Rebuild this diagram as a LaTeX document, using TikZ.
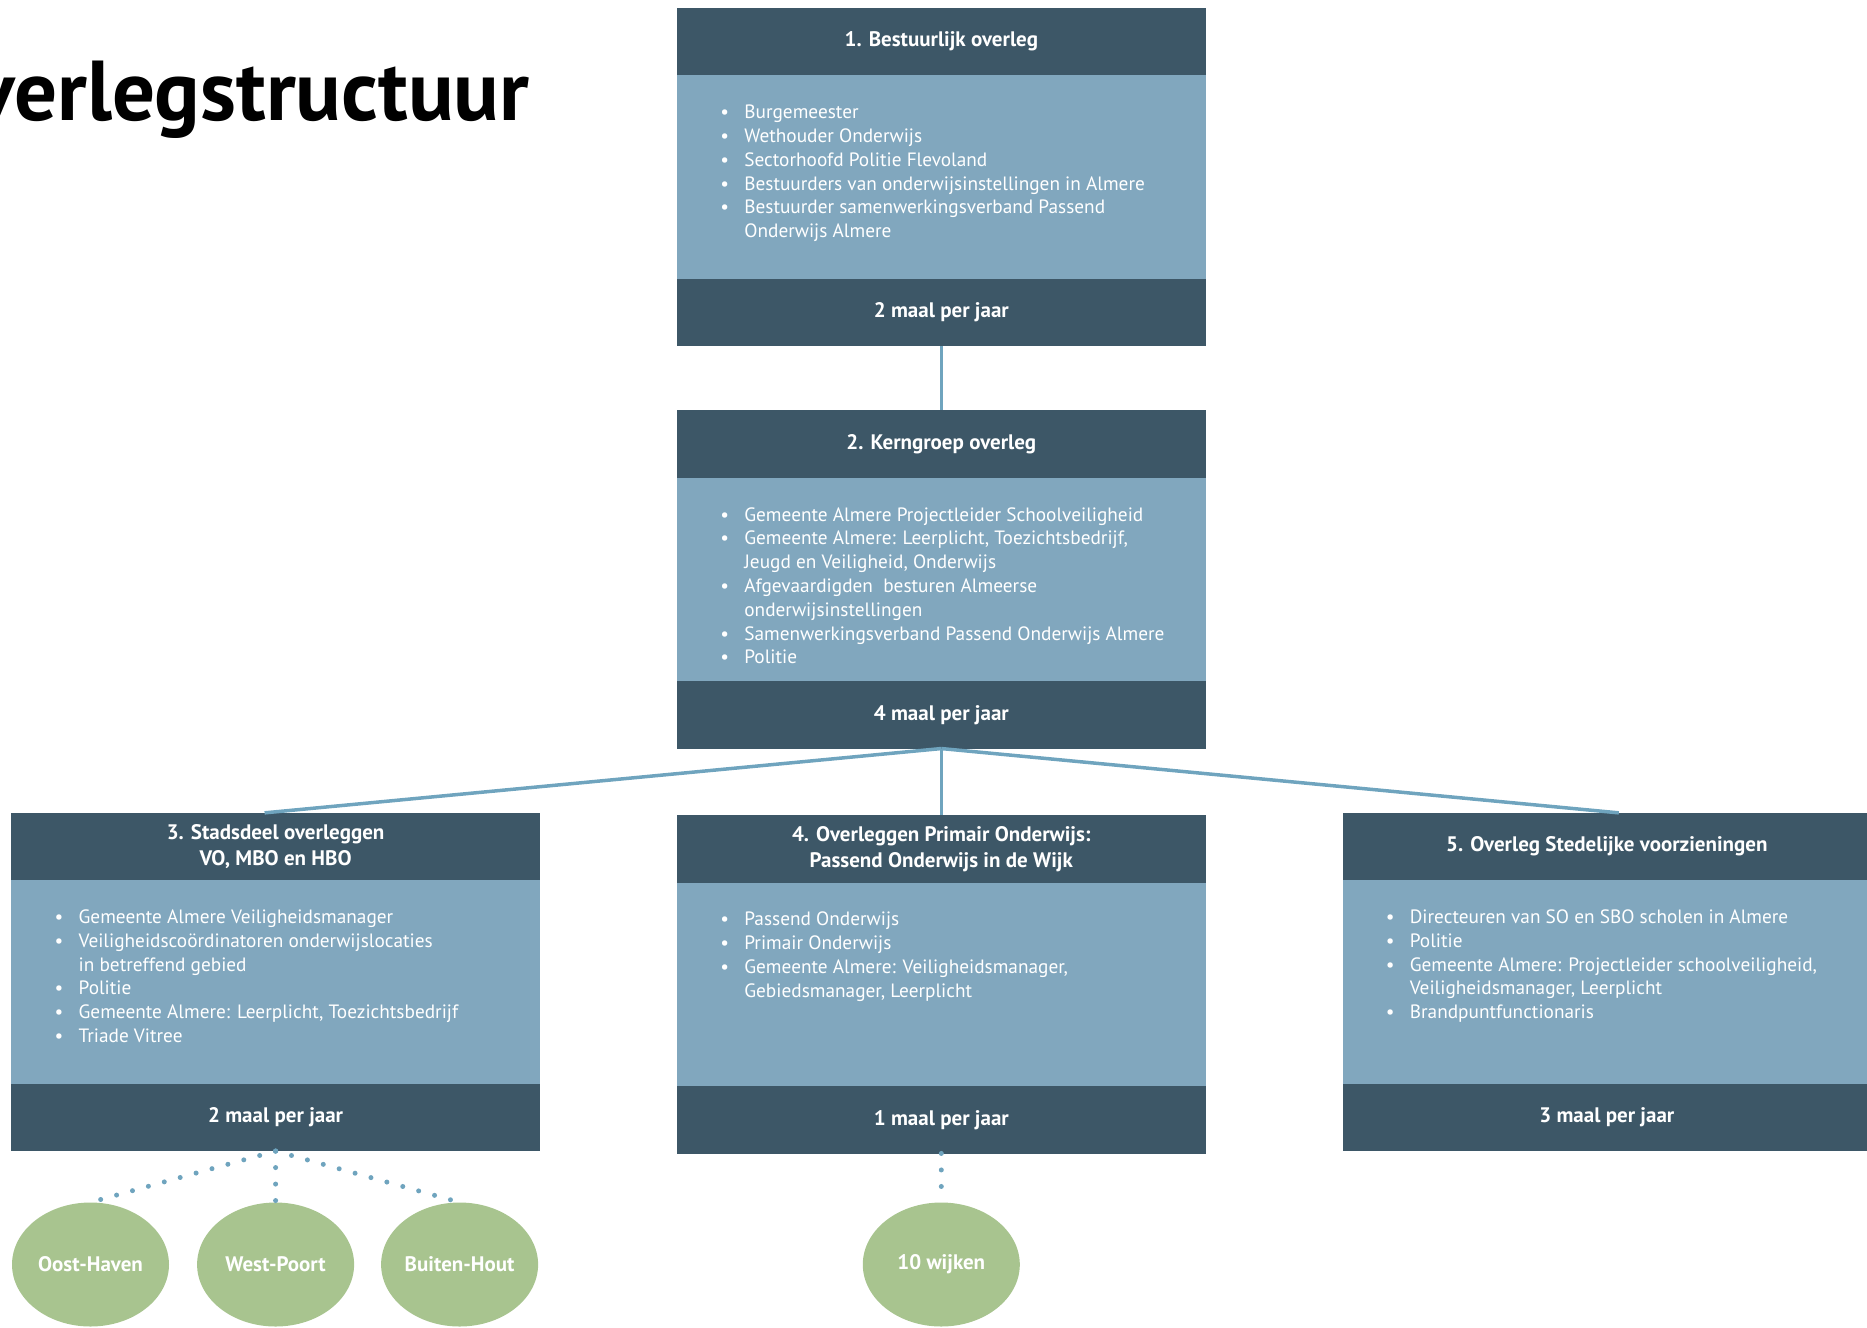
\documentclass[tikz,border=0pt]{standalone}
\usepackage{fontspec}
\setmainfont{PT Sans}
\usetikzlibrary{positioning,shapes.geometric}
\definecolor{kopblauw}{HTML}{3D5767}
\definecolor{lijfblauw}{HTML}{81A7BE}
\definecolor{lijnblauw}{HTML}{6FA4BE}
\definecolor{wijkgroen}{HTML}{A8C48F}
\newcommand{\lijst}[1]{\begin{tabular}{@{}p{24pt}@{}l@{}}#1\end{tabular}}
\tikzset{
  kop/.style={fill=kopblauw, draw=kopblauw, line width=0.8pt, text=white, font=\bfseries\fontsize{21}{25.5}\selectfont, align=center, minimum width=527.5pt, minimum height=66.7pt, inner sep=0pt},
  lijf/.style={fill=lijfblauw, draw=lijfblauw, line width=0.8pt, minimum width=527.5pt, minimum height=202.4pt, inner sep=0pt},
  tekst/.style={text=white, font=\fontsize{19.3}{23.8}\selectfont, inner sep=0pt, anchor=north west},
  lijn/.style={draw=lijnblauw, line width=3.5pt},
  stip/.style={draw=lijnblauw, line width=5pt, line cap=round, dash pattern=on 0pt off 16.5pt},
  wijk/.style={ellipse, fill=wijkgroen, text=white, font=\bfseries\fontsize{21}{25}\selectfont, minimum width=157pt, minimum height=124pt, inner sep=0pt}
}
\begin{document}
\begin{tikzpicture}[x=1pt, y=-1pt]
  \useasboundingbox (0,0) rectangle (1867,1327);
  \node[anchor=base west, inner sep=0pt, font=\bfseries\fontsize{85}{96}\selectfont] (titel) at (-26,121) {verlegstructuur};

  \node[kop] (k1) at (941.3,41.7) {1. Bestuurlijk overleg};
  \node[lijf] (l1) [below=0pt of k1] {};
  \node[kop] (v1) [below=0pt of l1] {2 maal per jaar};
  \node[tekst] (t1) at ([xshift=43pt, yshift=-26.3pt]l1.north west) {\lijst{
    \textbullet & Burgemeester\\
    \textbullet & Wethouder Onderwijs\\
    \textbullet & Sectorhoofd Politie Flevoland\\
    \textbullet & Bestuurders van onderwijsinstellingen in Almere\\
    \textbullet & Bestuurder samenwerkingsverband Passend\\
                & Onderwijs Almere\\}};

  \node[kop] (k2) at (941.3,444.1) {2. Kerngroep overleg};
  \node[lijf] (l2) [below=0pt of k2] {};
  \node[kop] (v2) [below=0pt of l2] {4 maal per jaar};
  \node[tekst] (t2) at ([xshift=43pt, yshift=-26.3pt]l2.north west) {\lijst{
    \textbullet & Gemeente Almere Projectleider Schoolveiligheid\\
    \textbullet & Gemeente Almere: Leerplicht, Toezichtsbedrijf,\\
                & Jeugd en Veiligheid, Onderwijs\\
    \textbullet & Afgevaardigden\ \ besturen Almeerse\\
                & onderwijsinstellingen\\
    \textbullet & Samenwerkingsverband Passend Onderwijs Almere\\
    \textbullet & Politie\\}};

  \node[kop] (k3) at (275.6,846.6) {3. Stadsdeel overleggen\\VO, MBO en HBO};
  \node[lijf] (l3) [below=0pt of k3] {};
  \node[kop] (v3) [below=0pt of l3] {2 maal per jaar};
  \node[tekst] (t3) at ([xshift=43pt, yshift=-26.3pt]l3.north west) {\lijst{
    \textbullet & Gemeente Almere Veiligheidsmanager\\
    \textbullet & Veiligheidscoördinatoren onderwijslocaties\\
                & in betreffend gebied\\
    \textbullet & Politie\\
    \textbullet & Gemeente Almere: Leerplicht, Toezichtsbedrijf\\
    \textbullet & Triade Vitree\\}};

  \node[kop] (k4) at (941.3,849) {4. Overleggen Primair Onderwijs:\\Passend Onderwijs in de Wijk};
  \node[lijf] (l4) [below=0pt of k4] {};
  \node[kop] (v4) [below=0pt of l4] {1 maal per jaar};
  \node[tekst] (t4) at ([xshift=43pt, yshift=-26.3pt]l4.north west) {\lijst{
    \textbullet & Passend Onderwijs\\
    \textbullet & Primair Onderwijs\\
    \textbullet & Gemeente Almere: Veiligheidsmanager,\\
                & Gebiedsmanager, Leerplicht\\}};

  \node[kop] (k5) at (1606.8,846.6) {5. Overleg Stedelijke voorzieningen};
  \node[lijf] (l5) [below=0pt of k5] {};
  \node[kop] (v5) [below=0pt of l5] {3 maal per jaar};
  \node[tekst] (t5) at ([xshift=43pt, yshift=-26.3pt]l5.north west) {\lijst{
    \textbullet & Directeuren van SO en SBO scholen in Almere\\
    \textbullet & Politie\\
    \textbullet & Gemeente Almere: Projectleider schoolveiligheid,\\
                & Veiligheidsmanager, Leerplicht\\
    \textbullet & Brandpuntfunctionaris\\}};

  \node[wijk] (w1) at (90.5,1264.5) {Oost-Haven};
  \node[wijk] (w2) at (275.6,1264.5) {West-Poort};
  \node[wijk] (w3) at (459.6,1264.5) {Buiten-Hout};
  \node[wijk] (w4) at (941.3,1264.5) {10 wijken};

  \draw[lijn] (v1.south) -- (k2.north);
  \draw[lijn] (v2.south) -- ([xshift=-11pt]k3.north);
  \draw[lijn] (v2.south) -- (k4.north);
  \draw[lijn] (v2.south) -- ([xshift=12pt]k5.north);

  \draw[stip] (v3.south) -- (w1.north);
  \draw[stip] (v3.south) -- (w2.north);
  \draw[stip] (v3.south) -- (w3.north);
  \draw[stip] (v4.south) -- (w4.north);
\end{tikzpicture}
\end{document}
